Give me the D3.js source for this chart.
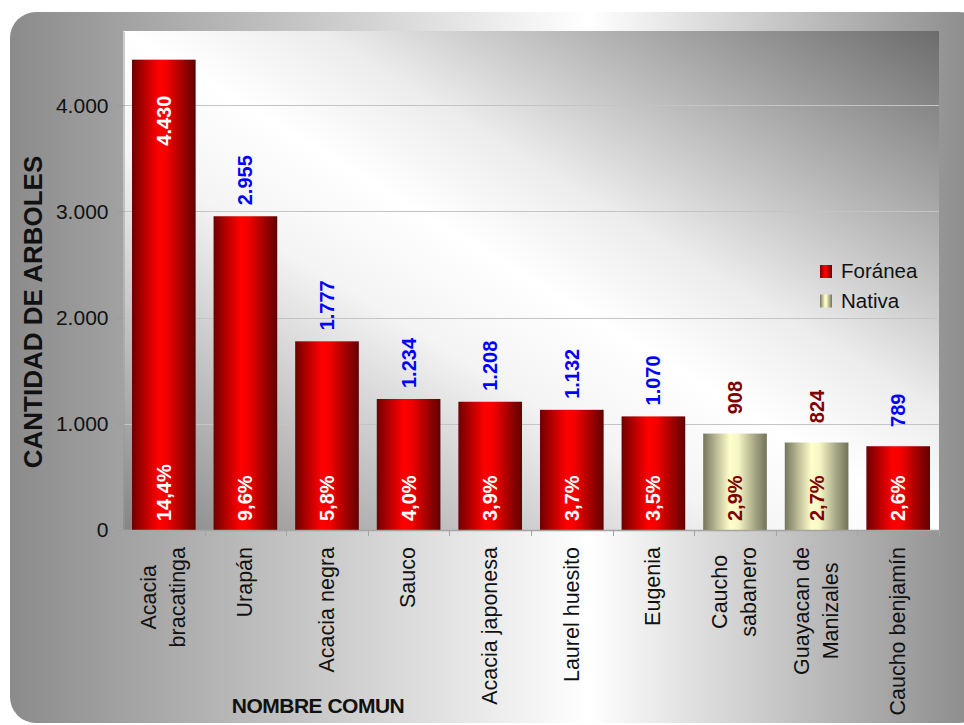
<!DOCTYPE html>
<html>
<head>
<meta charset="utf-8">
<script src="https://cdn.jsdelivr.net/npm/d3@7"></script>
<style>
  html, body { margin: 0; padding: 0; background: #ffffff; }
  svg { display: block; font-family: "Liberation Sans", Arial, sans-serif; }
</style>
</head>
<body>
<svg id="chart" width="964" height="725"></svg>
<script>
// Species names (line breaks as drawn), tree counts, share of total, origin
const categories = [
  "Acacia\nbracatinga", "Urapán", "Acacia negra", "Sauco", "Acacia japonesa",
  "Laurel huesito", "Eugenia", "Caucho\nsabanero", "Guayacan de\nManizales", "Caucho benjamín"
];
const values = [4430, 2955, 1777, 1234, 1208, 1132, 1070, 908, 824, 789];
const percents = ["14,4%", "9,6%", "5,8%", "4,0%", "3,9%", "3,7%", "3,5%", "2,9%", "2,7%", "2,6%"];
const origins = ["Foránea", "Foránea", "Foránea", "Foránea", "Foránea", "Foránea", "Foránea", "Nativa", "Nativa", "Foránea"];
const originKeys = ["Foránea", "Nativa"];
const yTicks = [0, 1000, 2000, 3000, 4000];
const yMax = 4700;

const svg = d3.select("#chart");
const defs = svg.append("defs");

// Spanish number style: "4.430"
const locale = d3.formatLocale({ decimal: ",", thousands: ".", grouping: [3], currency: ["$", ""] });
const fmt = locale.format(",d");

function linGrad(id, attrs, stops) {
  const g = defs.append("linearGradient").attr("id", id);
  Object.entries(attrs).forEach(([k, v]) => g.attr(k, v));
  stops.forEach(([o, c]) => g.append("stop").attr("offset", o).attr("stop-color", c));
}

// Frame and plot backgrounds
linGrad("frameGrad", { gradientUnits: "userSpaceOnUse", x1: 10, y1: 0, x2: 975, y2: 0 },
  [[0, "#8b8b8b"], [0.6, "#ffffff"], [1, "#8b8b8b"]]);
linGrad("plotGrad", { x1: 0, y1: 1, x2: 1, y2: 0 },
  [[0, "#858585"], [0.38, "#f4f4f4"], [0.5, "#ffffff"], [0.62, "#ececec"], [1, "#6c6c6c"]]);
// Cylinder-like bar fills
linGrad("grad-Foránea", { x1: 0, y1: 0, x2: 1, y2: 0 },
  [[0, "#6e0000"], [0.2, "#b80000"], [0.42, "#ff0000"], [0.55, "#f20000"], [0.8, "#a00000"], [1, "#620000"]]);
linGrad("grad-Nativa", { x1: 0, y1: 0, x2: 1, y2: 0 },
  [[0, "#75755c"], [0.2, "#b8b894"], [0.42, "#ffffcc"], [0.55, "#f6f6c4"], [0.8, "#a8a888"], [1, "#72725a"]]);

svg.append("rect")
  .attr("x", 10).attr("y", 12).attr("width", 975).attr("height", 711)
  .attr("rx", 26).attr("ry", 26)
  .attr("fill", "url(#frameGrad)");

const plot = { left: 123, right: 939, top: 31, bottom: 530 };

const x = d3.scaleBand()
  .domain(categories)
  .range([plot.left, plot.right])
  .paddingInner(0.22)
  .paddingOuter(0.11);

const y = d3.scaleLinear()
  .domain([0, yMax])
  .range([plot.bottom, plot.top]);

svg.append("rect")
  .attr("x", plot.left).attr("y", plot.top)
  .attr("width", plot.right - plot.left).attr("height", plot.bottom - plot.top)
  .attr("fill", "url(#plotGrad)");

// Horizontal gridlines
svg.append("g")
  .selectAll("line")
  .data(yTicks.filter(d => d > 0))
  .join("line")
  .attr("x1", plot.left).attr("x2", plot.right)
  .attr("y1", d => Math.round(y(d)) + 0.5).attr("y2", d => Math.round(y(d)) + 0.5)
  .attr("stroke", "#c4c4c4").attr("stroke-width", 1);

// Y axis
const yAxis = svg.append("g")
  .attr("transform", `translate(${plot.left + 0.5},0)`)
  .call(d3.axisLeft(y).tickValues(yTicks).tickFormat(d => fmt(d))
    .tickSize(6).tickSizeOuter(0).tickPadding(9));
yAxis.select(".domain").attr("stroke", "#9a9a9a");
yAxis.selectAll(".tick line").attr("stroke", "#9a9a9a");
yAxis.selectAll(".tick text")
  .attr("font-size", 21).attr("fill", "#111")
  .attr("font-family", "'Liberation Sans', Arial, sans-serif");

// Bars
const bars = svg.append("g");
bars.selectAll("rect")
  .data(categories)
  .join("rect")
  .attr("x", d => x(d))
  .attr("width", x.bandwidth())
  .attr("y", (d, i) => y(values[i]))
  .attr("height", (d, i) => y(0) - y(values[i]))
  .attr("fill", (d, i) => `url(#grad-${origins[i]})`);

// X axis line and boundary ticks
const step = x.step();
const xAxis = svg.append("g");
xAxis.append("line")
  .attr("x1", plot.left).attr("x2", plot.right)
  .attr("y1", y(0) + 0.5).attr("y2", y(0) + 0.5)
  .attr("stroke", "#a4a4a4").attr("stroke-width", 1.5);
const boundaries = categories.map(c => x(c) - x.paddingOuter() * step).concat([plot.right]);
xAxis.selectAll("line.tk")
  .data(boundaries)
  .join("line")
  .attr("class", "tk")
  .attr("x1", d => Math.round(d) + 0.5).attr("x2", d => Math.round(d) + 0.5)
  .attr("y1", y(0)).attr("y2", y(0) + 6)
  .attr("stroke", "#a4a4a4");

// Category labels, rotated, lines centred on each other
const catG = svg.append("g");
categories.forEach(c => {
  const lines = c.split("\n");
  const cx = x(c) + x.bandwidth() / 2;
  const g = catG.append("g");
  const texts = lines.map((ln, j) => g.append("text")
    .attr("font-size", 21.5).attr("fill", "#111")
    .attr("text-anchor", "middle")
    .text(ln));
  const maxLen = d3.max(texts, t => t.node().getComputedTextLength());
  const top = y(0) + 17;
  texts.forEach((t, j) => {
    const off = 6.8 + (j - (lines.length - 1) / 2) * 29;
    t.attr("transform", `translate(${cx + off},${top + maxLen / 2}) rotate(-90)`);
  });
});

// Value labels above bars (inside, in white, when there is no room above)
const valG = svg.append("g");
categories.forEach((c, i) => {
  const cx = x(c) + x.bandwidth() / 2;
  const top = y(values[i]);
  const t = valG.append("text")
    .attr("font-size", 20).attr("font-weight", "bold")
    .attr("text-anchor", "middle")
    .attr("dy", "0.35em")
    .text(fmt(values[i]));
  const len = t.node().getComputedTextLength();
  let cy, color;
  if (top - 9 - len < plot.top) {
    cy = top + 36 + len / 2;
    color = "#ffffff";
  } else {
    cy = top - 36;
    color = origins[i] === "Nativa" ? "#800000" : "#0000ff";
  }
  t.attr("fill", color).attr("transform", `translate(${cx},${cy}) rotate(-90)`);
});

// Share labels at the foot of each bar
svg.append("g")
  .selectAll("text")
  .data(categories)
  .join("text")
  .attr("font-size", 20).attr("font-weight", "bold")
  .attr("text-anchor", "start")
  .attr("dy", "0.35em")
  .attr("fill", (d, i) => origins[i] === "Nativa" ? "#800000" : "#ffffff")
  .attr("transform", d => `translate(${x(d) + x.bandwidth() / 2},${y(0) - 9}) rotate(-90)`)
  .text((d, i) => percents[i]);

// Axis titles
svg.append("text")
  .attr("transform", "translate(42,312) rotate(-90)")
  .attr("text-anchor", "middle")
  .attr("font-size", 26).attr("font-weight", "bold").attr("fill", "#111")
  .text("CANTIDAD DE ARBOLES");

svg.append("text")
  .attr("x", 318).attr("y", 713)
  .attr("text-anchor", "middle")
  .attr("font-size", 21).attr("font-weight", "bold").attr("fill", "#111")
  .attr("letter-spacing", -0.5)
  .text("NOMBRE COMUN");

// Legend
const legend = svg.append("g").attr("transform", "translate(820,265)");
originKeys.forEach((k, i) => {
  const row = legend.append("g").attr("transform", `translate(0,${i * 29.5})`);
  row.append("rect").attr("width", 12).attr("height", 13).attr("fill", `url(#grad-${k})`);
  row.append("text")
    .attr("x", 21).attr("y", 13)
    .attr("font-size", 20.5).attr("fill", "#111")
    .text(k);
});
</script>
</body>
</html>
